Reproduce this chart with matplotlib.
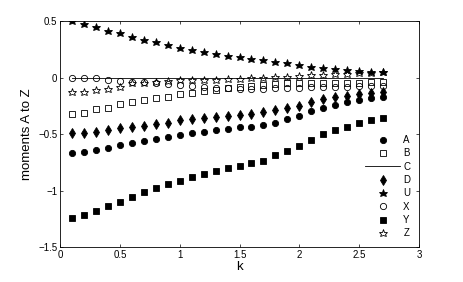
#!/usr/bin/env python3
"""
Moments A to Z against k, MATLAB-style scatter with marker legend
"""

import numpy as np
import matplotlib
matplotlib.use('Agg')
import matplotlib.pyplot as plt

# k values shared by every series
k = [0.1, 0.2, 0.3, 0.4, 0.5, 0.6, 0.7, 0.8, 0.9, 1.0, 1.1, 1.2, 1.3, 1.4,
     1.5, 1.6, 1.7, 1.8, 1.9, 2.0, 2.1, 2.2, 2.3, 2.4, 2.5, 2.6, 2.7]

mom_A = [-0.67, -0.66, -0.64, -0.62, -0.60, -0.58, -0.56, -0.54, -0.525,
         -0.51, -0.49, -0.478, -0.465, -0.455, -0.44, -0.435, -0.42, -0.40,
         -0.367, -0.338, -0.296, -0.267, -0.243, -0.22, -0.20, -0.184, -0.17]
mom_B = [-0.326, -0.317, -0.28, -0.267, -0.237, -0.22, -0.20, -0.184, -0.17,
         -0.15, -0.14, -0.12, -0.11, -0.096, -0.085, -0.075, -0.065, -0.055,
         -0.052, -0.05, -0.05, -0.048, -0.047, -0.046, -0.045, -0.044, -0.043]
mom_C = [0.0] * len(k)
mom_D = [-0.494, -0.49, -0.48, -0.465, -0.45, -0.435, -0.425, -0.41, -0.40,
         -0.38, -0.37, -0.36, -0.35, -0.34, -0.33, -0.32, -0.305, -0.288,
         -0.267, -0.25, -0.214, -0.19, -0.175, -0.16, -0.145, -0.135, -0.125]
mom_U = [0.497, 0.47, 0.45, 0.415, 0.39, 0.355, 0.33, 0.31, 0.285, 0.26,
         0.245, 0.225, 0.21, 0.19, 0.18, 0.165, 0.155, 0.14, 0.125, 0.11,
         0.096, 0.081, 0.075, 0.066, 0.058, 0.052, 0.046]
mom_X = [0.0, 0.0, -0.005, -0.022, -0.03, -0.04, -0.043, -0.05, -0.06, -0.07,
         -0.075, -0.08, -0.09, -0.095, -0.10, -0.10, -0.098, -0.096, -0.094,
         -0.09, -0.088, -0.085, -0.082, -0.08, -0.077, -0.075, -0.072]
mom_Y = [-1.246, -1.217, -1.181, -1.137, -1.099, -1.055, -1.016, -0.98,
         -0.945, -0.913, -0.883, -0.854, -0.827, -0.804, -0.78, -0.76, -0.739,
         -0.69, -0.65, -0.603, -0.55, -0.503, -0.465, -0.435, -0.40, -0.375,
         -0.355]
mom_Z = [-0.131, -0.125, -0.11, -0.10, -0.08, -0.05, -0.045, -0.04, -0.03,
         -0.022, -0.02, -0.02, -0.02, -0.015, -0.012, -0.007, -0.005, 0.005,
         0.007, 0.012, 0.02, 0.025, 0.028, 0.033, 0.038, 0.042, 0.045]

x_ticks = [0, 0.5, 1, 1.5, 2, 2.5, 3]
y_ticks = [-1.5, -1, -0.5, 0, 0.5]

plt.rcParams['font.family'] = ['Liberation Sans', 'DejaVu Sans']

fig = plt.figure(figsize=(4.63, 2.82), dpi=100)
ax = fig.add_axes([0.1296, 0.124, 0.7754, 0.8015])

mk = dict(linestyle='none', color='black', markeredgewidth=0.6)
ax.plot(k, mom_A, marker='o', markersize=4.5, label='A', **mk)
ax.plot(k, mom_B, marker='s', markersize=3.8, markerfacecolor='none', label='B', **mk)
ax.plot(k, mom_C, color='black', linewidth=0.6, label='C')
ax.plot(k, mom_D, marker='d', markersize=4.6, label='D', **mk)
ax.plot(k, mom_U, marker='*', markersize=6.2, label='U', **mk)
ax.plot(k, mom_X, marker='o', markersize=4.5, markerfacecolor='none', label='X', **mk)
ax.plot(k, mom_Y, marker='s', markersize=3.8, label='Y', **mk)
ax.plot(k, mom_Z, marker='*', markersize=6.2, markerfacecolor='none', label='Z', **mk)

ax.set_xlim(0, 3)
ax.set_ylim(-1.5, 0.5)
ax.set_xticks(x_ticks)
ax.set_xticklabels(['0', '0.5', '1', '1.5', '2', '2.5', '3'])
ax.set_yticks(y_ticks)
ax.set_yticklabels(['\u22121.5', '\u22121', '\u22120.5', '0', '0.5'])
ax.tick_params(direction='in', length=2.5, width=0.5, labelsize=7,
               top=True, right=True, pad=2)
for s in ax.spines.values():
    s.set_linewidth(0.6)

ax.set_xlabel('k', fontsize=9.5, labelpad=1)
ax.set_ylabel('moments A to Z', fontsize=9.5, labelpad=4)

ax.legend(loc='lower right', frameon=False, fontsize=7, handlelength=3.6,
          handletextpad=0.3, labelspacing=0.34, borderaxespad=0.7,
          borderpad=0.2, numpoints=1)

fig.savefig('out.png', dpi=100)
